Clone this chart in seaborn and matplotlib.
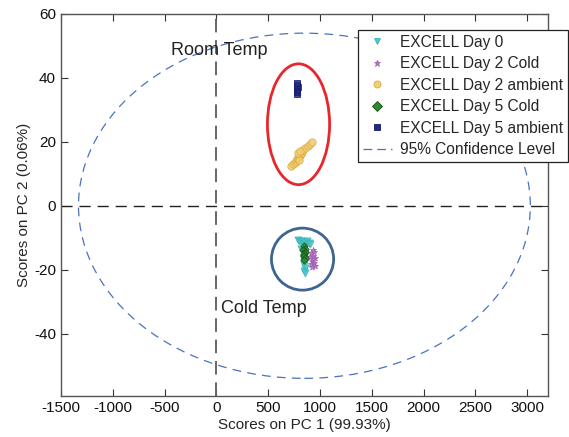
import numpy as np
import pandas as pd
import matplotlib
matplotlib.use("Agg")
import matplotlib.pyplot as plt
from matplotlib.patches import Ellipse
from matplotlib.lines import Line2D
import seaborn as sns

# ---- data ----
day0_x = [790, 800, 815, 830, 845, 860, 875, 890, 905, 820, 840, 855, 835, 850, 845, 860, 850, 855]
day0_y = [-10.8, -11.0, -11.2, -11.0, -11.5, -11.3, -11.0, -11.6, -12.0, -13.5, -14.2, -15.0, -16.5, -17.5, -18.5, -19.5, -20.5, -21.0]

d2c_x = [930, 915, 945, 905, 935, 955, 920, 940, 910, 950, 925, 935]
d2c_y = [-13.8, -14.8, -14.6, -16.0, -15.8, -16.5, -17.2, -17.8, -18.2, -18.8, -19.3, -16.8]

d2a_x = [720, 740, 755, 770, 780, 790, 800, 805, 815, 825, 840, 860, 880, 900, 925, 800, 790, 810]
d2a_y = [12.3, 13.0, 13.5, 14.0, 14.6, 15.0, 15.4, 16.0, 16.3, 16.8, 17.4, 18.0, 18.8, 19.3, 20.0, 14.2, 16.6, 17.2]

d5c_x = [845, 855, 840, 860, 850, 845, 858, 850]
d5c_y = [-12.6, -13.4, -14.0, -14.6, -15.2, -15.8, -16.3, -16.9]

d5a_x = [778, 782, 780, 785, 779, 783]
d5a_y = [35.0, 35.6, 36.3, 37.0, 37.8, 38.4]

series_names = ["EXCELL Day 0", "EXCELL Day 2 Cold", "EXCELL Day 2 ambient",
                "EXCELL Day 5 Cold", "EXCELL Day 5 ambient"]
series_x = [day0_x, d2c_x, d2a_x, d5c_x, d5a_x]
series_y = [day0_y, d2c_y, d2a_y, d5c_y, d5a_y]

# confidence ellipse (center, half-width, half-height)
conf_center = (850, 0)
conf_half = (2180, 54)
# highlight shapes
room_center, room_half = (793, 25.5), (300, 18.9)
cold_center, cold_half = (832, -16.7), (300, 9.7)

# ---- style ----
sns.set_style("ticks")
plt.rcParams["font.family"] = ["Liberation Sans", "DejaVu Sans"]
plt.rcParams["font.size"] = 11
plt.rcParams["axes.unicode_minus"] = False

fig = plt.figure(figsize=(5.69, 4.37), dpi=100)
ax = fig.add_axes([0.107, 0.094, 0.856, 0.874])

markers = ["v", "*", "o", "D", "s"]
faces = ["#48c8c8", "#b872c4", "#f3cf7a", "#2f8a2f", "#1f2a80"]
edges = ["#3ab4b4", "#a060b0", "#d9a83a", "#114d11", "#10186a"]
sizes = [26, 20, 28, 14, 24]

df = pd.concat([pd.DataFrame({"x": xs, "y": ys, "s": n})
                for n, xs, ys in zip(series_names, series_x, series_y)], ignore_index=True)

for n, m, fc, ec, sz in zip(series_names, markers, faces, edges, sizes):
    sub = df[df["s"] == n]
    sns.scatterplot(data=sub, x="x", y="y", ax=ax, marker=m, color=fc,
                    edgecolor=ec, linewidth=0.6, s=sz, alpha=0.85, zorder=4, legend=False)

# reference lines
ax.axvline(0, color="#666666", lw=1.4, ls=(0, (7, 4)), zorder=1)
ax.axhline(0, color="#222222", lw=1.0, ls=(0, (8, 5)), zorder=1)

# confidence ellipse
ax.add_patch(Ellipse(conf_center, 2 * conf_half[0], 2 * conf_half[1], fill=False,
                     edgecolor="#4a72c0", lw=0.9, ls=(0, (7, 5)), zorder=2))
ax.add_patch(Ellipse(room_center, 2 * room_half[0], 2 * room_half[1], fill=False,
                     edgecolor="#e8262b", lw=2.0, zorder=3))
ax.add_patch(Ellipse(cold_center, 2 * cold_half[0], 2 * cold_half[1], fill=False,
                     edgecolor="#3d6592", lw=2.0, zorder=3))

ax.text(-435, 48.7, "Room Temp", fontsize=13, va="center", ha="left", color="#222222")
ax.text(48, -32, "Cold Temp", fontsize=13, va="center", ha="left", color="#222222")

ax.set_xlim(-1500, 3200)
ax.set_ylim(-59.5, 60)
ax.set_xticks(np.arange(-1500, 3001, 500))
ax.set_yticks([-40, -20, 0, 20, 40, 60])
ax.tick_params(direction="in", top=True, right=True, length=5, width=0.8,
               colors="#333333", labelcolor="#111111", labelsize=11)
for sp in ax.spines.values():
    sp.set_visible(True)
    sp.set_color("#555555")
    sp.set_linewidth(1.0)
ax.set_xlabel("Scores on PC 1 (99.93%)", fontsize=11, labelpad=2)
ax.set_ylabel("Scores on PC 2 (0.06%)", fontsize=11, labelpad=2)

handles = [Line2D([], [], ls="none", marker=m, markerfacecolor=fc, markeredgecolor=ec,
                  markersize=5, markeredgewidth=0.6)
           for m, fc, ec in zip(markers, faces, edges)]
handles.append(Line2D([], [], color="#4a72c0", lw=0.9, ls=(0, (7, 4))))
labels = series_names + ["95% Confidence Level"]
leg = ax.legend(handles, labels, loc="upper left", bbox_to_anchor=(0.61, 0.958),
                frameon=True, fancybox=False, edgecolor="#222222", framealpha=1,
                fontsize=11.2, handlelength=1.9, handletextpad=0.5, labelspacing=0.42,
                borderpad=0.3, borderaxespad=0)
leg.get_frame().set_linewidth(0.9)

fig.savefig("out.png", dpi=100)
